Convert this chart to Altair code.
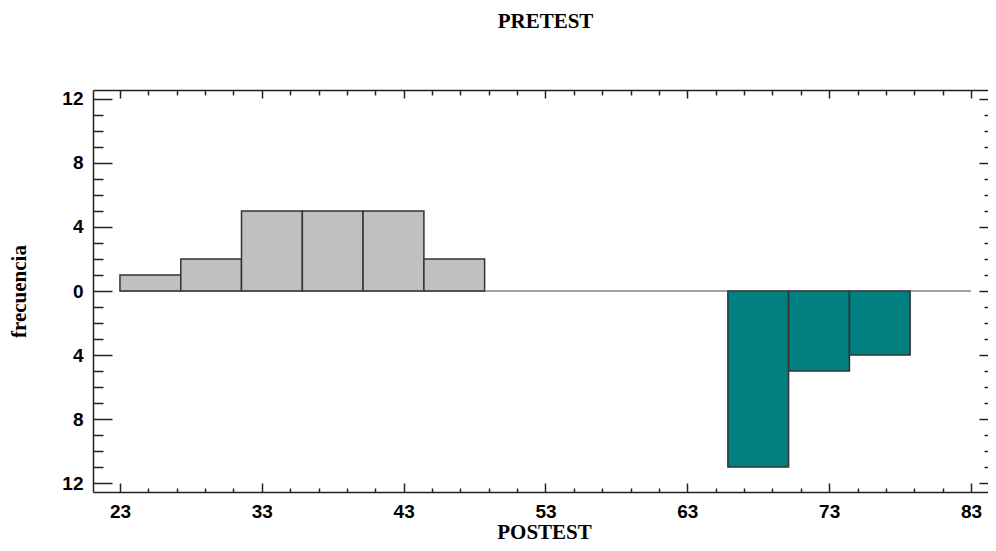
import altair as alt
import pandas as pd

# ---- data ----
pre_lo = [23.0, 27.29, 31.57, 35.86, 40.14, 44.43]
pre_hi = [27.29, 31.57, 35.86, 40.14, 44.43, 48.71]
pre_freq = [1, 2, 5, 5, 5, 2]

post_lo = [65.86, 70.14, 74.43]
post_hi = [70.14, 74.43, 78.71]
post_freq = [11, 5, 4]

x_labels = [23, 33, 43, 53, 63, 73, 83]
x_ticks = list(range(23, 84, 2))
y_labels = [-12, -8, -4, 0, 4, 8, 12]
y_ticks = list(range(-12, 13, 1))

W, H = 895, 402
FRAME = "#222222"

bars = pd.DataFrame({
    "lo": pre_lo + post_lo,
    "hi": pre_hi + post_hi,
    "freq": pre_freq + [-f for f in post_freq],
    "grupo": ["PRETEST"] * len(pre_freq) + ["POSTEST"] * len(post_freq),
})
zero = pd.DataFrame({"x": [x_labels[0]], "x2": [x_labels[-1]], "y": [0]})

xs = alt.Scale(domain=[21.1, 84.2], nice=False, zero=False)
ys = alt.Scale(domain=[-12.56, 12.56], nice=False, zero=False)

def cond(test, a, b):
    return {"condition": {"test": test, "value": a}, "value": b}

x_major = "(datum.value - 23) % 10 === 0"
y_major = "datum.value % 4 === 0"

TITLE_FONT = "Liberation Serif"

rects = alt.Chart(bars).mark_rect(stroke="#333333", strokeWidth=1.5).encode(
    x=alt.X("lo:Q", scale=xs, axis=alt.Axis(
        orient="bottom", values=x_labels, ticks=False, tickSize=0, grid=False,
        labelFont="Liberation Sans", labelFontWeight="bold", labelFontSize=19,
        labelColor="black", labelPadding=10, domainColor=FRAME, domainWidth=1.5,
        title="POSTEST", titleFont=TITLE_FONT, titleFontSize=21,
        titleFontWeight="bold", titleColor="black", titleBaseline="alphabetic",
        titleAlign="center", titleX=451, titleY=46)),
    x2="hi:Q",
    y=alt.Y("freq:Q", scale=ys, axis=alt.Axis(
        orient="left", values=y_labels, ticks=False, tickSize=0, grid=False,
        labelExpr="'' + abs(datum.value)",
        labelFont="Liberation Sans", labelFontWeight="bold", labelFontSize=19,
        labelColor="black", labelPadding=10, domainColor=FRAME, domainWidth=1.5,
        title="frecuencia", titleFont=TITLE_FONT, titleFontSize=21,
        titleFontWeight="bold", titleColor="black", titleBaseline="alphabetic",
        titleX=-68)),
    y2=alt.datum(0),
    color=alt.Color("grupo:N", scale=alt.Scale(domain=["PRETEST", "POSTEST"],
                                                range=["#C0C0C0", "#008080"]),
                    legend=None),
)

# inward ticks on the bottom and left edges
zero_line = alt.Chart(zero).mark_rule(color="#444444", strokeWidth=1).encode(
    x=alt.X("x:Q", scale=xs, axis=alt.Axis(
        orient="top", offset=-H, values=x_ticks, labels=False, domain=False,
        grid=False, title="", tickColor=FRAME, tickWidth=1.5,
        tickSize=cond(x_major, 9, 4))),
    x2="x2:Q",
    y=alt.Y("y:Q", scale=ys, axis=alt.Axis(
        orient="right", offset=-W, values=y_ticks, labels=False, domain=False,
        grid=False, title="", tickColor=FRAME, tickWidth=1.5,
        tickSize=cond(y_major, 19, 10))),
)

# top frame (with the chart title) and right-edge inward ticks
frame = alt.Chart(bars).mark_point(opacity=0).encode(
    x=alt.X("lo:Q", scale=xs, axis=alt.Axis(
        orient="bottom", offset=-H, values=x_ticks, labels=False, domain=True,
        domainColor=FRAME, domainWidth=1.5, grid=False,
        tickColor=FRAME, tickWidth=1.5, tickSize=cond(x_major, 8, 5),
        title="PRETEST", titleFont=TITLE_FONT, titleFontSize=21,
        titleFontWeight="bold", titleColor="black", titleBaseline="alphabetic",
        titleAlign="center", titleX=452, titleY=-63)),
    y=alt.Y("freq:Q", scale=ys, axis=alt.Axis(
        orient="left", offset=-W, values=y_ticks, labels=False, domain=False,
        grid=False, title="", tickColor=FRAME, tickWidth=1.5,
        tickSize=cond(y_major, 9, 4))),
)

chart = alt.layer(rects, zero_line, frame).resolve_axis(
    x="independent", y="independent"
).properties(
    width=W, height=H,
    autosize=alt.AutoSizeParams(type="none"),
    padding={"left": 85, "top": 82, "right": 0, "bottom": 51},
).configure_view(strokeWidth=0).configure(background="white")

chart.save("out.html", embed_options={"renderer": "svg", "actions": False})
